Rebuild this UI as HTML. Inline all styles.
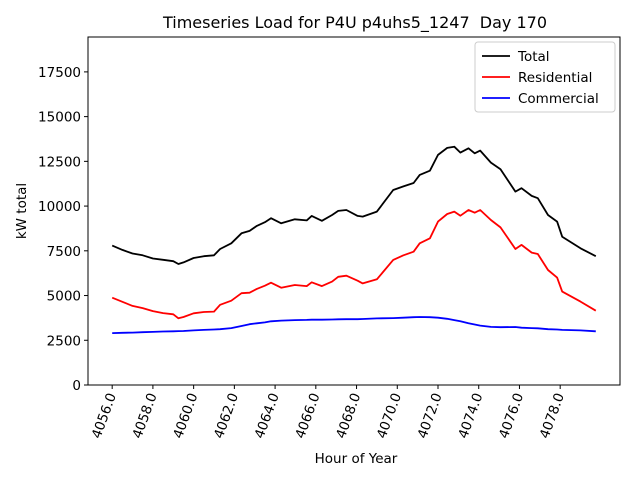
<!DOCTYPE html>
<html><head><meta charset="utf-8"><style>body{margin:0;background:#fff}svg{font-family:"DejaVu Sans","Liberation Sans",sans-serif}</style></head>
<body>
<svg id="c" width="640" height="480"></svg>
<script>
const hours=[0,0.5,1,1.5,2,2.5,3,3.25,3.5,4,4.5,5,5.3,5.85,6.35,6.75,7.1,7.5,7.8,8.3,8.97,9.55,9.8,10.3,10.8,11.1,11.5,12.05,12.3,13,13.8,14.3,14.8,15.1,15.6,16,16.45,16.8,17.1,17.5,17.8,18.07,18.6,19.07,19.8,20.1,20.6,20.9,21.4,21.85,22.1,23,23.75];
const totalLoad=[7790,7550,7350,7250,7070,7000,6920,6760,6850,7100,7200,7250,7600,7920,8480,8610,8890,9100,9320,9040,9260,9200,9450,9180,9500,9730,9780,9450,9410,9690,10900,11100,11290,11740,11980,12860,13250,13320,12990,13230,12950,13100,12430,12060,10810,11000,10570,10440,9500,9130,8290,7640,7200];
const residentialLoad=[4880,4650,4420,4300,4130,4020,3950,3730,3800,4010,4080,4100,4480,4710,5130,5160,5370,5550,5720,5440,5590,5530,5740,5530,5780,6050,6110,5830,5680,5910,6990,7250,7450,7920,8200,9130,9560,9690,9460,9780,9630,9780,9220,8810,7600,7830,7400,7320,6430,6000,5220,4660,4150];
const commercialLoad=[2900,2920,2930,2950,2970,2990,3000,3010,3020,3050,3080,3100,3120,3180,3300,3400,3450,3500,3560,3600,3630,3640,3650,3650,3660,3670,3680,3680,3690,3720,3740,3760,3790,3800,3790,3760,3700,3630,3560,3450,3380,3320,3250,3230,3240,3200,3180,3170,3120,3100,3080,3050,3000];
const yTicks=[0,2500,5000,7500,10000,12500,15000,17500];
const xTicks=[4056,4058,4060,4062,4064,4066,4068,4070,4072,4074,4076,4078];
const baseHour=4056;
const L=88,R=620,T=37,B=385,X0=4056-1.1875,X1=4079.75+1.1875,YMAX=19450;
const sx=v=>L+(v-X0)/(X1-X0)*(R-L);
const sy=v=>B-v/YMAX*(B-T);
const svg=document.getElementById('c');const NS='http://www.w3.org/2000/svg';
function mk(t,a,p){const e=document.createElementNS(NS,t);for(const k in a)e.setAttribute(k,a[k]);(p||svg).appendChild(e);return e;}
let e;
e=mk('text',{x:355,y:28,'text-anchor':'middle','font-size':16});e.textContent='Timeseries Load for P4U p4uhs5_1247\u00a0 Day 170';


yTicks.forEach(v=>{const y=sy(v);mk('line',{x1:L-4,x2:L,y1:y,y2:y,stroke:'#000'});
e=mk('text',{x:L-7,y:y+5,'text-anchor':'end','font-size':13.5});e.textContent=v;

});
xTicks.forEach(v=>{const x=sx(v);mk('line',{x1:x,x2:x,y1:B,y2:B+4,stroke:'#000'});
e=mk('text',{x:x+4,y:B+10,'text-anchor':'end','font-size':13.5,transform:`rotate(-70 ${x+4} ${B+10})`});e.textContent=v.toFixed(1);

});
function series(vals,color,name){const d=hours.map((h,i)=>(i?'L':'M')+sx(baseHour+h).toFixed(1)+','+sy(vals[i]).toFixed(1)).join('');
const p=mk('path',{d:d,fill:'none',stroke:color,'stroke-width':1.8,'stroke-linejoin':'round'});

}
series(totalLoad,'#000','total-line');
series(residentialLoad,'red','residential-line');
series(commercialLoad,'blue','commercial-line');
mk('rect',{x:L,y:T,width:R-L,height:B-T,fill:'none',stroke:'#000','stroke-width':1});
e=mk('text',{x:356,y:463,'text-anchor':'middle','font-size':13.5});e.textContent='Hour of Year';


e=mk('text',{x:26,y:211,'text-anchor':'middle','font-size':13.5,transform:'rotate(-90 26 211)'});e.textContent='kW total';


const lg=mk('g',{});


mk('rect',{x:475,y:42,width:140,height:70,rx:3,fill:'#fff',stroke:'#ccc'},lg);
[['Total','#000'],['Residential','red'],['Commercial','blue']].forEach((s,i)=>{const y=56+i*21;
mk('line',{x1:482,x2:510,y1:y,y2:y,stroke:s[1],'stroke-width':1.8},lg);
const t=mk('text',{x:518,y:y+5,'font-size':13.5},lg);t.textContent=s[0];

});
</script>
</body></html>
